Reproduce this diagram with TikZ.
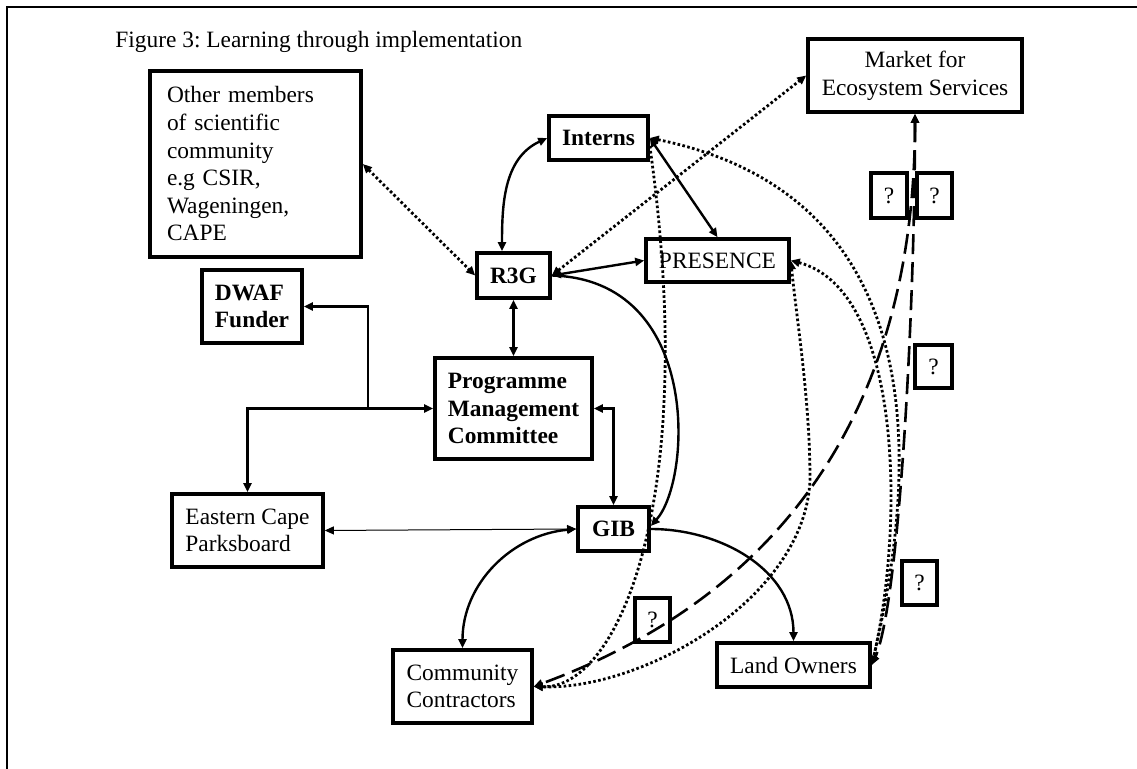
\documentclass[tikz,border=0pt]{standalone}
\usepackage{fontspec}
\setmainfont{Liberation Serif}
\usetikzlibrary{arrows.meta}
\frenchspacing

\begin{document}
\begin{tikzpicture}[x=5pt,y=5pt,>={Triangle[length=4.5pt,width=4pt]}]
\tikzstyle{every node}+=[inner sep=0pt, font=\fontsize{11.7}{13.8}\selectfont]
\tikzstyle{box}=[draw, line width=1.8pt, fill=white, align=center]
\tikzstyle{bbox}=[box, font=\fontsize{11.7}{13.8}\selectfont\bfseries]
\tikzstyle{lbox}=[box, align=left]
\tikzstyle{link}=[line width=1.2pt]
\tikzstyle{thinlink}=[line width=0.5pt]
\tikzstyle{dotlink}=[line width=1.4pt, dash pattern=on 1.3pt off 1.2pt]
\tikzstyle{dashlink}=[line width=1.3pt, dash pattern=on 10pt off 4pt]
\useasboundingbox (0,0) rectangle (113.7,-76.9);
\draw [line width=1pt] (0.7,-76.9) -- (0.7,-0.7) -- (113.7,-0.7);
\node [anchor=base west] (title) at (11.5,-4.77) {Figure 3: Learning through implementation};
% boxes
\node [lbox, text width=88.5pt, inner xsep=8.5pt, minimum height=93pt] (other) at (25.55,-16.4) {Other members\\of scientific\\community\\e.g CSIR,\\Wageningen,\\CAPE};
\node [bbox, minimum width=49.5pt, minimum height=22pt] (interns) at (59.85,-13.8) {Interns};
\node [box, minimum width=107pt, minimum height=36.5pt] (market) at (91.5,-7.55) {Market for\\Ecosystem Services};
\node [bbox, minimum width=36.5pt, minimum height=22.5pt] (r3g) at (51.35,-27.55) {R3G};
\node [box, minimum width=71.5pt, minimum height=21.5pt] (presence) at (71.75,-26.05) {PRESENCE};
\node [bbox, align=left, minimum width=50pt, minimum height=36.5pt] (dwaf) at (25.2,-30.65) {DWAF\\Funder};
\node [bbox, align=left, minimum width=78.5pt, minimum height=50.5pt] (pmc) at (51.35,-40.85) {Programme\\Management\\Committee};
\node [lbox, minimum width=75.5pt, minimum height=36.5pt] (eastern) at (24.75,-53.05) {Eastern Cape\\Parksboard};
\node [bbox, minimum width=35.5pt, minimum height=22pt] (gib) at (61.35,-52.9) {GIB};
\node [lbox, minimum width=69.5pt, minimum height=36.5pt] (cc) at (46.25,-68.65) {Community\\Contractors};
\node [box, minimum width=76.5pt, minimum height=22pt] (lo) at (79.35,-66.5) {Land Owners};
\node [box, minimum width=18pt, minimum height=22.5pt] (q1) at (88.9,-19.55) {?};
\node [box, minimum width=17.5pt, minimum height=22.5pt] (q2) at (93.45,-19.55) {?};
\node [box, minimum width=18.5pt, minimum height=21.5pt] (q3) at (93.35,-36.65) {?};
\node [box, minimum width=17.5pt, minimum height=22pt] (q4) at (91.95,-58.3) {?};
\node [box, minimum width=17.5pt, minimum height=22pt] (q5) at (65.25,-62.0) {?};
% solid links
\coordinate (bus) at (36.8,-40.85);
\draw [link, ->] (bus) |- (dwaf.east);
\draw [link, ->] (bus) -- (pmc.west);
\draw [link, ->] (bus) -| (eastern.north);
\draw [link, <->] ([xshift=-5.75pt]r3g.north) to[out=90,in=205] (interns.west);
\draw [link, <->] (interns.east) -- (presence.north);
\draw [link, <->] (r3g.east) -- (presence.west);
\draw [link, <->] (r3g.south) -- (pmc.north);
\draw [link, <->] (pmc.east) -| (gib.north);
\draw [link, ->] (r3g.east) .. controls +(15,-0.4) and +(4.1,4.6) .. ([yshift=1.5pt]gib.east);
\draw [link, <->] (gib.west) to[out=185,in=90] (cc.north);
\draw [link, ->] (gib.east) to[out=0,in=90] (lo.north);
\draw [thinlink, <->] (eastern.east) -- (gib.west);
% dotted links
\draw [dotlink, <->] (other.east) -- (r3g.west);
\draw [dotlink, <->] (r3g.east) -- (market.west);
\draw [dotlink, ->] ([yshift=-4pt]interns.east) .. controls +(5,-35.3) and +(8.5,-0.3) .. (cc.east);
\draw [dotlink, <->] (interns.east) .. controls +(30.2,-6.2) and +(3.8,16.3) .. (lo.east);
\draw [dotlink, <->] (presence.east) .. controls +(11.1,-2.9) and +(3.3,14.3) .. (lo.east);
\draw [dotlink, <->] (presence.east) .. controls +(0.6,-6) and +(0,8) .. (81,-48) .. controls +(-0.5,-12) and +(10.7,-0.4) .. (cc.east);
% dashed links
\draw [dashlink, <->] (market.south) .. controls +(0,-33.7) and +(20.7,7.6) .. (cc.east);
\draw [dashlink, <->] (market.south) .. controls +(0,-18.7) and +(2.8,6.3) .. (lo.east);
\end{tikzpicture}
\end{document}
